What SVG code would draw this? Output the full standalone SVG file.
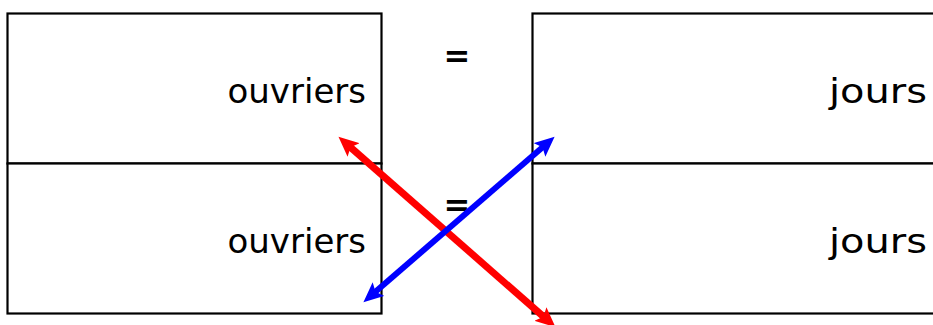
<svg xmlns="http://www.w3.org/2000/svg" width="933" height="325" viewBox="0 0 933 325">
<style>
.cell{fill:#fff;stroke:#000;stroke-width:2.2}
.lbl{font-family:"DejaVu Sans","Liberation Sans",sans-serif;font-size:34px;fill:#000;text-anchor:end}
.eq{font-family:"DejaVu Sans","Liberation Sans",sans-serif;font-size:32px;font-weight:bold;fill:#000;text-anchor:middle}
</style>
<defs>
<marker id="hr" markerUnits="userSpaceOnUse" markerWidth="22" markerHeight="18" refX="6" refY="9" orient="auto-start-reverse" viewBox="0 0 22 18">
<path d="M0,0 L20,9 L0,18 L4,9 z" fill="#ff0000"/>
</marker>
<marker id="hb" markerUnits="userSpaceOnUse" markerWidth="22" markerHeight="18" refX="6" refY="9" orient="auto-start-reverse" viewBox="0 0 22 18">
<path d="M0,0 L20,9 L0,18 L4,9 z" fill="#0000ff"/>
</marker>
</defs>
<g id="left-table">
<rect class="cell" x="7.5" y="13.5" width="374" height="150"/>
<rect class="cell" x="7.5" y="163.5" width="374" height="150"/>
<text class="lbl" x="366" y="103">ouvriers</text>
<text class="lbl" x="366" y="253">ouvriers</text>
</g>
<g id="right-table">
<rect class="cell" x="532.5" y="13.5" width="420" height="150"/>
<rect class="cell" x="532.5" y="163.5" width="420" height="150"/>
<text class="lbl" x="927" y="103" textLength="98" lengthAdjust="spacingAndGlyphs">jours</text>
<text class="lbl" x="927" y="253" textLength="98" lengthAdjust="spacingAndGlyphs">jours</text>
</g>
<g id="equals">
<text class="eq" x="457" y="67">=</text>
<text class="eq" x="457" y="216">=</text>
</g>
<g id="connectors">
<line x1="349" y1="146" x2="545" y2="318" stroke="#ff0000" stroke-width="7" marker-start="url(#hr)" marker-end="url(#hr)"/>
<line x1="544" y1="146" x2="374" y2="293" stroke="#0000ff" stroke-width="6" marker-start="url(#hb)" marker-end="url(#hb)"/>
</g>
</svg>
